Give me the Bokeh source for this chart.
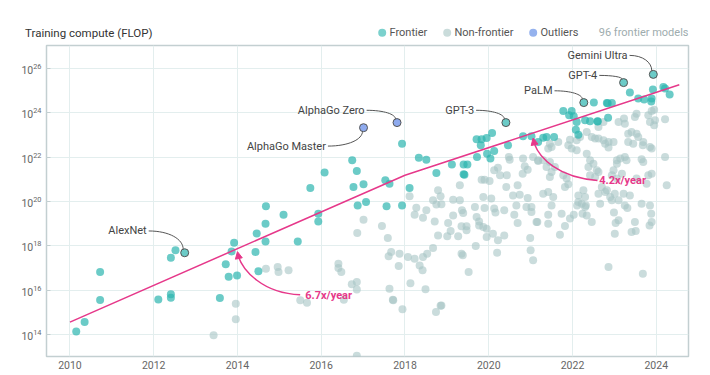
import numpy as np
from bokeh.plotting import figure
from bokeh.models import Range1d, FixedTicker, LogTickFormatter, Arrow, NormalHead
from bokeh.layouts import column
from bokeh.core.properties import value
from bokeh.embed import file_html
from bokeh.resources import INLINE

# ---------------- data ----------------
frontier_year = [2010.15, 2010.35, 2010.72, 2010.72, 2012.11, 2012.41, 2012.41, 2012.41, 2012.52,
                 2013.58, 2013.72, 2013.79, 2013.92, 2013.86, 2013.99, 2014.68, 2015.10, 2014.67,
                 2014.46, 2014.67, 2014.43, 2014.50, 2015.44, 2015.93, 2015.93, 2016.87, 2017.07,
                 2017.56, 2016.74, 2016.85, 2016.08, 2015.74, 2016.77, 2017.01, 2017.93, 2018.33,
                 2018.51, 2017.53, 2017.63, 2018.11, 2017.93, 2018.75, 2019.12, 2019.40, 2019.49,
                 2019.40, 2019.42, 2019.71, 2019.83, 2019.95, 2020.08, 2019.81, 2019.96, 2020.13,
                 2020.04, 2019.72, 2020.46, 2020.82, 2021.02, 2021.18, 2022.51, 2022.82, 2022.94,
                 2022.84, 2023.37, 2023.92, 2024.17, 2024.21, 2024.32, 2023.57, 2023.71, 2023.89,
                 2021.78, 2021.98, 2021.92, 2022.03, 2022.10, 2022.30, 2022.42, 2022.60, 2022.60,
                 2022.85, 2022.08, 2022.14, 2021.38, 2021.30, 2021.56, 2023.88]
frontier_exp = [14.15, 14.57, 16.82, 15.56, 15.59, 15.82, 15.67, 17.47, 17.80,
                15.65, 17.17, 16.61, 18.14, 17.75, 16.67, 19.78, 19.40, 19.00,
                18.56, 18.20, 17.72, 16.86, 18.20, 19.45, 19.10, 19.82, 19.97,
                19.78, 21.85, 21.37, 21.30, 20.60, 20.65, 20.77, 22.60, 21.97,
                21.88, 20.95, 20.80, 20.60, 19.82, 21.28, 21.66, 21.66, 21.66,
                21.22, 21.20, 22.80, 22.80, 22.86, 23.08, 22.53, 22.15, 22.27,
                21.93, 22.00, 22.53, 22.93, 22.93, 22.68, 24.45, 24.43, 24.43,
                24.42, 24.90, 25.04, 25.15, 25.08, 24.81, 24.63, 24.59, 24.63,
                24.07, 24.07, 23.88, 23.83, 23.58, 23.65, 23.61, 23.61, 23.60,
                23.77, 23.23, 23.00, 22.90, 22.87, 22.90, 24.50]

nonfrontier_year = [2013.43, 2013.96, 2013.96, 2014.68, 2014.96, 2014.98, 2015.22, 2015.50, 2015.66,
                    2016.41, 2016.41, 2016.48, 2016.73, 2016.85, 2016.85, 2016.54, 2017.01, 2016.86,
                    2017.45, 2017.59, 2017.61, 2017.67, 2017.63, 2017.71, 2016.85, 2017.72, 2017.94,
                    2018.13, 2018.49, 2018.74, 2018.87, 2018.85, 2018.11, 2018.79, 2018.85, 2018.67,
                    2018.75, 2018.87, 2018.27, 2018.23, 2018.51, 2018.43, 2019.36, 2019.39, 2019.15,
                    2018.71, 2019.03, 2019.35, 2019.47, 2019.09, 2018.79, 2019.01, 2019.27, 2019.47,
                    2018.67, 2018.53, 2018.43, 2017.87, 2018.07, 2018.23, 2017.85, 2018.35, 2018.42,
                    2019.35, 2019.38, 2019.52, 2020.48, 2020.50, 2020.13, 2020.22, 2020.27, 2020.43,
                    2019.83, 2019.90, 2020.02, 2020.42, 2020.69, 2019.31, 2019.87, 2020.06, 2020.58,
                    2020.74, 2020.93, 2020.82, 2020.86, 2020.93, 2020.81, 2021.06, 2021.18, 2019.15,
                    2019.31, 2019.67, 2020.66, 2020.90, 2021.02, 2019.71, 2019.77, 2019.77, 2019.87,
                    2019.95, 2019.90, 2020.13, 2020.16, 2020.37, 2019.95, 2019.69, 2020.22, 2020.37,
                    2020.20, 2020.61, 2020.69, 2021.02, 2021.16, 2020.99, 2021.00, 2021.06, 2020.10,
                    2023.53, 2023.49, 2023.81, 2023.89, 2023.95, 2023.97, 2023.85, 2023.95, 2024.21,
                    2023.23, 2023.25, 2023.10, 2022.62, 2022.74, 2022.34, 2022.46, 2022.54, 2022.62,
                    2022.74, 2022.86, 2022.78, 2022.18, 2021.94, 2022.10, 2021.90, 2021.98, 2022.10,
                    2021.66, 2021.50, 2021.42, 2021.46, 2021.18, 2021.30, 2021.46, 2021.38, 2021.58,
                    2021.50, 2021.46, 2021.78, 2021.86, 2021.90, 2021.82, 2022.34, 2022.42, 2022.50,
                    2022.38, 2022.58, 2022.42, 2022.98, 2022.86, 2023.06, 2023.14, 2023.25, 2023.29,
                    2023.33, 2023.41, 2023.53, 2023.57, 2023.33, 2023.45, 2023.69, 2023.68, 2023.85,
                    2023.89, 2023.06, 2022.98, 2022.94, 2023.18, 2023.06, 2022.70, 2022.82, 2022.62,
                    2022.26, 2022.30, 2022.14, 2022.94, 2023.22, 2023.37, 2022.66, 2023.85, 2023.65,
                    2023.69, 2021.54, 2021.42, 2021.30, 2021.14, 2021.42, 2021.42, 2021.50, 2021.82,
                    2021.70, 2022.03, 2022.11, 2022.24, 2022.32, 2022.46, 2022.99, 2023.03, 2023.31,
                    2023.51, 2023.88, 2023.84, 2022.86, 2023.68, 2021.74, 2021.94, 2022.14, 2022.22,
                    2022.30, 2022.34, 2022.54, 2022.62, 2022.78, 2022.90, 2023.01, 2023.10, 2023.25,
                    2023.10, 2023.01, 2023.53, 2023.65, 2023.89, 2023.77, 2023.81, 2023.89, 2024.21,
                    2024.25, 2023.49, 2023.41]
nonfrontier_exp = [13.98, 15.40, 14.70, 16.97, 17.05, 16.82, 16.90, 15.55, 15.44,
                   17.20, 17.00, 16.82, 16.27, 16.37, 16.04, 15.58, 19.18, 18.58,
                   18.90, 18.35, 17.53, 17.72, 16.07, 15.58, 13.05, 15.55, 15.15,
                   16.32, 16.05, 15.02, 15.32, 15.30, 20.23, 20.50, 20.23, 20.05,
                   19.86, 19.87, 19.72, 19.40, 19.60, 19.27, 19.60, 19.48, 19.37,
                   19.10, 19.03, 18.88, 18.88, 18.67, 18.47, 18.43, 18.43, 18.70,
                   17.90, 17.65, 17.50, 17.65, 17.50, 17.42, 17.09, 17.12, 16.90,
                   17.65, 17.58, 16.82, 22.00, 21.88, 21.40, 21.52, 21.18, 21.18,
                   20.98, 20.98, 20.92, 20.65, 20.73, 20.73, 20.20, 20.13, 20.27,
                   20.30, 20.15, 21.93, 21.58, 21.43, 21.25, 22.00, 21.82, 20.08,
                   20.05, 19.75, 19.82, 19.75, 19.75, 19.30, 19.10, 18.92, 18.85,
                   18.77, 19.70, 19.68, 19.50, 19.60, 18.40, 17.99, 18.25, 18.47,
                   17.69, 19.40, 19.03, 19.52, 19.07, 18.35, 17.80, 17.35, 18.55,
                   23.95, 23.80, 23.88, 24.07, 24.13, 23.65, 23.58, 23.43, 23.70,
                   23.73, 23.50, 23.58, 23.35, 23.58, 23.13, 22.90, 22.83, 22.83,
                   22.75, 22.68, 22.60, 22.90, 22.78, 22.75, 22.53, 22.38, 22.30,
                   22.68, 22.45, 22.38, 22.60, 21.85, 21.85, 21.78, 21.55, 21.55,
                   21.32, 21.10, 21.18, 21.03, 20.77, 20.65, 22.15, 21.85, 21.70,
                   21.55, 21.40, 21.18, 22.68, 22.43, 21.85, 21.93, 22.00, 21.85,
                   23.05, 23.13, 23.05, 22.90, 22.68, 22.60, 22.68, 22.53, 22.45,
                   22.38, 21.70, 21.40, 21.18, 21.25, 21.03, 20.65, 20.50, 20.35,
                   20.50, 20.20, 19.97, 20.05, 20.35, 20.27, 19.90, 19.82, 21.90,
                   21.78, 20.20, 20.42, 20.35, 19.07, 19.00, 19.40, 19.82, 18.90,
                   18.50, 19.40, 19.82, 19.45, 19.82, 19.07, 19.50, 19.03, 19.70,
                   18.67, 19.45, 18.92, 17.05, 16.75, 19.45, 19.23, 20.27, 19.90,
                   19.75, 19.37, 21.10, 21.32, 20.42, 20.20, 20.35, 20.05, 19.82,
                   19.15, 18.55, 21.03, 19.90, 19.07, 20.80, 21.18, 21.25, 22.00,
                   20.73, 19.07, 18.62]

named_models = ["AlexNet", "GPT-3", "PaLM", "GPT-4", "Gemini Ultra"]
named_year = [2012.74, 2020.41, 2022.27, 2023.22, 2023.93]
named_exp = [17.69, 23.55, 24.45, 25.35, 25.72]

outlier_models = ["AlphaGo Master", "AlphaGo Zero"]
outlier_year = [2017.01, 2017.81]
outlier_exp = [23.32, 23.55]

trend_year = [2010.0, 2018.0, 2024.55]
trend_exp = [14.57, 21.18, 25.25]

growth_labels = ["6.7x/year", "4.2x/year"]
growth_at_year = [2014.0, 2021.06]

x_ticks = [2010, 2012, 2014, 2016, 2018, 2020, 2022, 2024]
y_tick_exps = [14, 16, 18, 20, 22, 24, 26]

axis_title = "Training compute (FLOP)"
legend_labels = ["Frontier", "Non-frontier", "Outliers"]
count_label = "96 frontier models"

# ---------------- styles / layout ----------------
FONT = value("Roboto")
PINK = "#e6388a"
TEAL = "#2cb5af"
GREY = "#a6c4c4"
BLUE = "#8eaaee"
W = 710
HEADER_H = 41
MAIN_H = 334
BL, BR, BT, BB = 46, 22, 4, 19
X0, X1 = 2009.44, 2024.77
E0, E1 = 13.02, 27.02
PPY = (W - BL - BR) / (X1 - X0)
PPE = (MAIN_H - BT - BB) / (E1 - E0)

# label offsets (px right, px up) from the annotated point to the end of its label
label_offsets = {
    "AlexNet": (-38, 21.8),
    "GPT-3": (-31.8, 12.3),
    "PaLM": (-31.3, 11.8),
    "GPT-4": (-26.3, 7.2),
    "Gemini Ultra": (-25.8, 19.0),
    "AlphaGo Master": (-37.6, -18.4),
    "AlphaGo Zero": (-32.4, 12.3),
}

def to_data(yr, ex, dx, dy):
    return yr + dx / PPY, 10 ** (ex + dy / PPE)

# ---------------- header (its frame lines up with the chart frame: x in page px) ----------------
h = figure(width=W, height=HEADER_H, x_range=Range1d(BL, W - BR), y_range=Range1d(0, HEADER_H),
           x_axis_location=None, y_axis_location="left", min_border=0,
           min_border_left=BL, min_border_right=BR,
           outline_line_color=None, toolbar_location=None, output_backend="svg")
h.xgrid.visible = False
h.ygrid.visible = False
hy = 8.7
# the chart heading is carried by the header's left axis (its only tick label), so it is not clipped
TITLE_END = 152.5
h.yaxis.ticker = FixedTicker(ticks=[hy])
h.yaxis.major_label_overrides = {hy: axis_title}
h.yaxis.axis_line_color = None
h.yaxis.major_tick_line_color = None
h.yaxis.minor_tick_line_color = None
h.yaxis.major_tick_out = 0
h.yaxis.major_label_standoff = -int(round(TITLE_END - BL))
h.yaxis.major_label_text_font = "Roboto"
h.yaxis.major_label_text_font_size = "11.5px"
h.yaxis.major_label_text_color = "#333333"

dot_x = [381.7, 446.7, 532.7]
h.scatter(x=dot_x, y=[hy] * 3, size=8, fill_color=["#7bd1cd", "#cadcdb", "#95b2ee"], line_color=None)
h.text(x=[d + 7.3 for d in dot_x], y=[hy] * 3, text=legend_labels, text_font=FONT,
       text_font_size=value("11px"), text_color="#555555", text_baseline="middle", text_align="left")
h.text(x=[W - BR], y=[hy], text=[count_label], text_font=FONT, text_font_size=value("11px"),
       text_color="#9eacae", text_baseline="middle", text_align="right")

# ---------------- main chart ----------------
p = figure(width=W, height=MAIN_H, x_range=Range1d(X0, X1), y_range=Range1d(10 ** E0, 10 ** E1),
           y_axis_type="log", toolbar_location=None, output_backend="svg",
           min_border_left=BL, min_border_right=BR, min_border_top=BT, min_border_bottom=BB)
p.outline_line_color = "#c3cfd1"
p.outline_line_width = 1.5
p.xaxis.ticker = FixedTicker(ticks=x_ticks)
p.yaxis.ticker = FixedTicker(ticks=[10.0 ** e for e in y_tick_exps])
p.yaxis.formatter = LogTickFormatter()
for ax in (p.xaxis, p.yaxis):
    ax.axis_line_color = None
    ax.major_tick_out = 0
    ax.minor_tick_line_color = None
    ax.major_label_text_font = "Roboto"
    ax.major_label_text_font_size = "10.5px"
    ax.major_label_text_color = "#666666"
p.xaxis.major_tick_line_color = None
p.xaxis.major_label_standoff = 4
p.yaxis.major_tick_in = 4
p.yaxis.major_tick_line_color = "#c3cfd1"
p.yaxis.major_label_standoff = 5
p.grid.grid_line_color = "#e3eeee"
p.grid.grid_line_width = 1

p.scatter(nonfrontier_year, [10 ** e for e in nonfrontier_exp], size=8,
          fill_color=GREY, fill_alpha=0.6, line_color=None)
p.scatter(frontier_year, [10 ** e for e in frontier_exp], size=8,
          fill_color=TEAL, fill_alpha=0.7, line_color=None)
p.line(trend_year, [10 ** e for e in trend_exp], line_color=PINK, line_width=1.5)

# annotated points
p.scatter(named_year, [10 ** e for e in named_exp], size=8, fill_color=TEAL, fill_alpha=0.7,
          line_color="#555555", line_width=1)
p.scatter(outlier_year, [10 ** e for e in outlier_exp], size=8, fill_color=BLUE,
          line_color="#555555", line_width=1)

lx, ly, lt = [], [], []
bz = {k: [] for k in ("x0", "y0", "x1", "y1", "cx0", "cy0", "cx1", "cy1")}
for name, yr, ex in list(zip(named_models, named_year, named_exp)) + list(zip(outlier_models, outlier_year, outlier_exp)):
    dx, dy = label_offsets[name]
    tx, ty = to_data(yr, ex, dx, dy)
    lx.append(tx); ly.append(ty); lt.append(name)
    sx, sy = dx + 2, dy
    exx, eyy = (-1.5, 3.5) if dy > 0 else (-1.0, -3.5)
    c1 = (sx + 0.6 * (exx - sx), sy)
    c2 = (exx, sy + 0.45 * (eyy - sy))
    a = to_data(yr, ex, sx, sy); b = to_data(yr, ex, exx, eyy)
    c = to_data(yr, ex, *c1); d = to_data(yr, ex, *c2)
    bz["x0"].append(a[0]); bz["y0"].append(a[1]); bz["x1"].append(b[0]); bz["y1"].append(b[1])
    bz["cx0"].append(c[0]); bz["cy0"].append(c[1]); bz["cx1"].append(d[0]); bz["cy1"].append(d[1])
p.bezier(line_color="#555555", line_width=1, **bz)
p.text(x=lx, y=ly, text=lt, text_font=FONT, text_font_size=value("11px"), text_color="#444444",
       text_align="right", text_baseline="middle")

# growth-rate arrows (px geometry relative to the trend line point)
arrow_geom = [
    dict(text=(67.7, -46.6), p0=(62.7, -46.1), p1=(24.7, -44.6), p2=(5.7, -21.6), p3=(1.0, -8.0), tip=(0.0, -3.0)),
    dict(text=(66.0, -47.4), p0=(64.3, -47.4), p1=(24.3, -44.4), p2=(6.3, -24.4), p3=(1.3, -11.0), tip=(0.0, -5.0)),
]
for lab, gy, g in zip(growth_labels, growth_at_year, arrow_geom):
    ge = float(np.interp(gy, trend_year, trend_exp))
    P = [to_data(gy, ge, *g[k]) for k in ("p0", "p1", "p2", "p3")]
    p.bezier(x0=[P[0][0]], y0=[P[0][1]], cx0=[P[1][0]], cy0=[P[1][1]], cx1=[P[2][0]], cy1=[P[2][1]],
             x1=[P[3][0]], y1=[P[3][1]], line_color=PINK, line_width=1.5)
    tip = to_data(gy, ge, *g["tip"])
    p.add_layout(Arrow(end=NormalHead(size=7, fill_color=PINK, line_color=PINK, line_width=1),
                       x_start=P[3][0], y_start=P[3][1], x_end=tip[0], y_end=tip[1],
                       line_color=PINK, line_width=1.5))
    t = to_data(gy, ge, *g["text"])
    p.text(x=[t[0]], y=[t[1]], text=[lab], text_font=FONT, text_font_size=value("11px"),
           text_font_style="bold", text_color=PINK, text_align="left", text_baseline="middle")

layout = column(h, p)
open("out.html", "w").write(file_html(layout, INLINE))
